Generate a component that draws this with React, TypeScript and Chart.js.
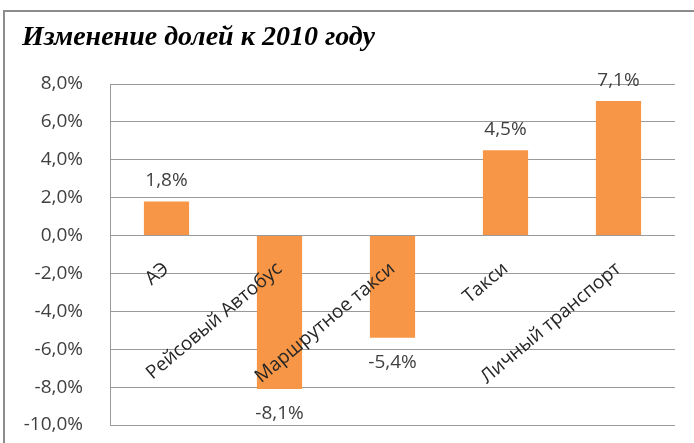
import React, { useEffect, useRef } from "react";
import { Chart, registerables } from "chart.js";

Chart.register(...registerables);

const categories = ["АЭ", "Рейсовый Автобус", "Маршрутное такси", "Такси", "Личный транспорт"];
const shareChange = [1.8, -8.1, -5.4, 4.5, 7.1];
const titleText = "Изменение долей к 2010 году";
const yMin = -10;
const yMax = 8;
const yStep = 2;

const fmt = (v: number) => v.toFixed(1).replace(".", ",") + "%";

const dataLabels = {
  id: "dataLabels",
  afterDatasetsDraw(chart: any) {
    const ctx = chart.ctx;
    const meta = chart.getDatasetMeta(0);
    ctx.save();
    ctx.font = '19px "Open Sans"';
    ctx.fillStyle = "#404040";
    ctx.textAlign = "center";
    ctx.textBaseline = "alphabetic";
    meta.data.forEach((el: any, i: number) => {
      const v = shareChange[i];
      const y = v >= 0 ? el.y - 15 : el.y + 30;
      ctx.fillText(fmt(v), el.x, y);
    });
    ctx.restore();
  },
};

export default function App() {
  const ref = useRef<HTMLCanvasElement>(null);
  useEffect(() => {
    if (!ref.current) return;
    const chart = new Chart(ref.current, {
      type: "bar",
      data: {
        labels: categories,
        datasets: [
          {
            data: shareChange,
            backgroundColor: "#F79646",
            barPercentage: 0.4,
            categoryPercentage: 1,
          },
        ],
      },
      options: {
        responsive: false,
        animation: false,
        layout: { padding: { left: 22, right: 19, top: 0, bottom: 18 } },
        plugins: {
          legend: { display: false },
          tooltip: { enabled: false },
          title: {
            display: true,
            text: titleText,
            align: "start",
            color: "#000",
            font: { family: '"Liberation Serif"', size: 28, style: "italic", weight: "bold" },
            padding: { top: 21.2, bottom: 29.2 },
          },
        },
        scales: {
          x: {
            position: { y: 0 } as any,
            grid: { display: false },
            border: { display: false },
            ticks: {
              z: 1,
              autoSkip: false,
              minRotation: 40,
              maxRotation: 40,
              padding: 14,
              color: "#262626",
              font: { family: '"Open Sans"', size: 19 },
            },
            afterFit(scale: any) {
              scale.height = 0;
            },
          },
          y: {
            min: yMin,
            max: yMax,
            grid: { color: "#9a9a9a", drawTicks: true, tickLength: 27, tickColor: "rgba(0,0,0,0)" },
            border: { color: "#9a9a9a" },
            ticks: {
              stepSize: yStep,
              padding: 0,
              color: "#404040",
              font: { family: '"Open Sans"', size: 19 },
              callback: (v: any) => fmt(Number(v)),
            },
            afterFit(scale: any) {
              scale.width = 88;
            },
          },
        },
      },
      plugins: [dataLabels],
    });
    return () => chart.destroy();
  }, []);
  return (
    <div style={{ position: "fixed", left: 0, top: 0, width: 694, height: 443, background: "#fff", overflow: "hidden" }}>
      <div
        style={{
          position: "absolute",
          left: 3,
          top: 10,
          width: 720,
          height: 460,
          borderLeft: "2px solid #8c8c8c",
          borderTop: "2px solid #8c8c8c",
        }}
      />
      <canvas ref={ref} width={694} height={443} style={{ position: "absolute", left: 0, top: 0 }} />
    </div>
  );
}
